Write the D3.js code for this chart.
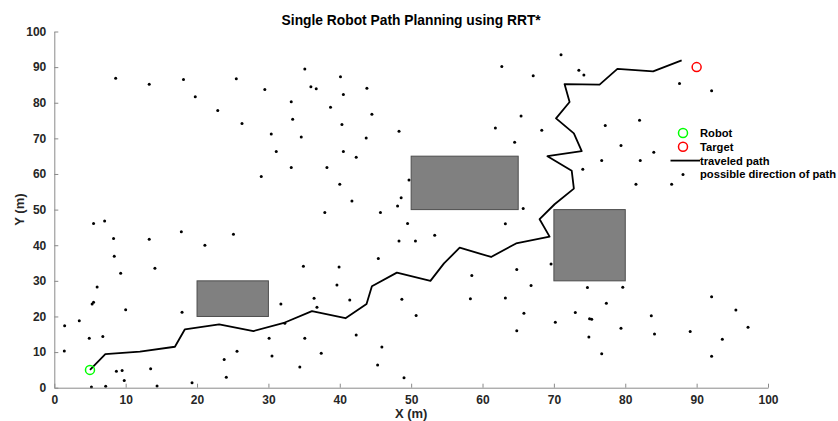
<!DOCTYPE html>
<html lang="en">
<head>
    <meta charset="UTF-8">
    <script src="https://cdn.jsdelivr.net/npm/d3@7"></script>
    <title>Single Robot Path Planning using RRT*</title>
    <style>
        body { margin: 0; background: white; }
        text { font-family: "Liberation Sans", Arial, sans-serif; font-weight: bold; }
    </style>
</head>
<body>
    <div id="chart"></div>

    <script>
        // robot start and target
        const robot = [5, 5];
        const target = [90, 90];

        // obstacles: [x, y, width, height]
        const obstacles = [
            [20, 20, 10, 10],
            [50, 50, 15, 15],
            [70, 30, 10, 20]
        ];

        // traveled path vertices
        const pathX = [5, 7.15, 12.0, 16.9, 18.3, 23.1, 27.9, 32.3, 36.1, 40.8, 43.75, 44.5, 48.0, 52.7,
            54.6, 56.8, 61.2, 64.7, 69.4, 68.0, 70.1, 72.8, 72.5, 69.1, 73.9, 72.8, 70.3, 72.2, 71.5,
            76.4, 78.9, 83.9, 87.9];
        const pathY = [5, 9.45, 10.1, 11.5, 16.4, 17.8, 15.9, 18.3, 21.5, 19.5, 23.5, 28.5, 32.3, 30.0,
            34.9, 39.3, 36.7, 40.5, 42.4, 47.3, 51.5, 55.9, 60.9, 65.0, 66.4, 71.4, 75.6, 80.2, 85.2,
            85.1, 89.5, 88.8, 91.9];

        // sampled nodes (possible direction of path)
        const nodeX = [8.6, 13.3, 18.1, 19.75, 22.9, 25.5, 26.3, 29.5, 29.0, 30.4, 31.1, 33.2, 33.4, 33.2,
            34.6, 35.1, 35.95, 36.7, 38.2, 38.7, 40.1, 40.5, 40.3, 40.5, 40.0, 42.3, 41.7, 43.7, 43.8,
            44.5, 48.3, 49.7, 48.6, 48.1,
            62.7, 67.1, 71.0, 73.5, 74.2, 87.6, 92.1, 65.4, 61.8, 68.3, 64.5, 77.2, 82.0, 79.4, 84.0,
            76.7, 82.1, 74.05, 81.5, 86.5, 65.7,
            5.5, 7.05, 8.3, 8.4, 9.3, 6.0, 5.5, 5.3, 10.0, 3.5, 1.45, 4.9, 6.8, 1.4, 8.7, 9.5, 9.8,
            5.2, 7.2, 14.4, 19.3, 13.5, 13.3, 14.1, 17.8, 17.9, 21.1, 25.1, 23.8, 24.1, 25.6, 30.1,
            30.5, 31.75, 32.3, 34.4, 35.1, 34.9, 36.4, 36.8, 37.4, 37.9, 39.9, 39.6, 41.4, 42.3, 45.7,
            49.5, 48.3, 50.6, 45.4, 48.7, 50.7, 45.9, 45.3, 49.0,
            53.3, 63.2, 58.5, 64.8, 69.6, 66.8, 58.3, 63.2, 74.7, 79.65, 77.35, 65.8, 73.0, 75.0, 75.3,
            70.2, 64.8, 79.4, 74.9, 76.7, 83.65, 84.1, 89.1, 92.1, 95.5, 97.2, 93.6, 92.1];
        const nodeY = [86.9, 85.2, 86.5, 81.7, 77.8, 86.7, 74.2, 83.7, 59.3, 71.2, 66.3, 80.3, 75.4, 61.8,
            70.4, 89.5, 84.5, 83.9, 61.8, 78.7, 87.3, 82.3, 73.9, 66.3, 57.1, 64.7, 52.4, 70.1, 84.1,
            76.8, 72.0, 58.3, 53.3, 51.0,
            90.2, 87.6, 93.5, 89.1, 87.8, 85.4, 83.4, 76.3, 72.9, 72.3, 68.9, 73.6, 75.1, 68.0, 66.1,
            63.8, 63.8, 61.3, 57.1, 57.1, 50.3,
            46.1, 46.8, 41.9, 36.9, 32.1, 28.3, 24.0, 23.5, 21.9, 18.8, 17.4, 13.9, 14.4, 10.3, 4.6, 4.8, 2.0,
            0.2, 0.4, 0.5, 1.4, 5.3, 41.7, 33.5, 43.8, 21.2, 40.0, 43.1, 7.9, 2.9, 10.2, 13.9,
            8.9, 23.5, 18.1, 5.8, 13.9, 34.1, 25.1, 22.6, 9.7, 49.2, 33.9, 28.8, 24.6, 14.8, 49.2,
            46.1, 41.2, 41.2, 36.3, 24.8, 20.3, 11.4, 6.4, 2.8,
            42.8, 46.0, 31.5, 33.2, 34.7, 28.7, 25.0, 25.2, 28.1, 28.2, 23.7, 20.9, 21.1, 19.35, 19.2,
            18.4, 16.0, 16.7, 14.2, 9.5, 20.2, 15.1, 15.8, 25.5, 21.8, 17.0, 13.6, 8.8];

        const ticks = [0, 10, 20, 30, 40, 50, 60, 70, 80, 90, 100];
        const legendLabels = ["Robot", "Target", "traveled path", "possible direction of path"];

        const width = 838, height = 421;
        const margin = { top: 31.5, right: 70, bottom: 33.3, left: 54.3 };

        const svg = d3.select("#chart").append("svg")
            .attr("width", width)
            .attr("height", height);

        const x = d3.scaleLinear().domain([0, 100]).range([margin.left, width - margin.right]);
        const y = d3.scaleLinear().domain([0, 100]).range([height - margin.bottom, margin.top]);

        // obstacles
        svg.selectAll("rect.obs")
            .data(obstacles)
            .enter()
            .append("rect")
            .attr("class", "obs")
            .attr("x", d => x(d[0]))
            .attr("y", d => y(d[1] + d[3]))
            .attr("width", d => x(d[0] + d[2]) - x(d[0]))
            .attr("height", d => y(d[1]) - y(d[1] + d[3]))
            .attr("fill", "#808080")
            .attr("stroke", "#4d4d4d")
            .attr("stroke-width", 1);

        // sampled nodes
        svg.selectAll("circle.node")
            .data(nodeX.map((v, i) => [v, nodeY[i]]))
            .enter()
            .append("circle")
            .attr("class", "node")
            .attr("cx", d => x(d[0]))
            .attr("cy", d => y(d[1]))
            .attr("r", 1.5)
            .attr("fill", "black");

        // traveled path
        const line = d3.line().x(d => x(d[0])).y(d => y(d[1]));
        svg.append("path")
            .datum(pathX.map((v, i) => [v, pathY[i]]))
            .attr("d", line)
            .attr("fill", "none")
            .attr("stroke", "black")
            .attr("stroke-width", 1.8)
            .attr("stroke-linejoin", "round");

        // robot and target
        svg.append("circle")
            .attr("cx", x(robot[0])).attr("cy", y(robot[1])).attr("r", 4.5)
            .attr("fill", "none").attr("stroke", "#00ff00").attr("stroke-width", 1.5);
        svg.append("circle")
            .attr("cx", x(target[0])).attr("cy", y(target[1])).attr("r", 4.5)
            .attr("fill", "none").attr("stroke", "#ff0000").attr("stroke-width", 1.5);

        // axes
        const xAxis = d3.axisBottom(x).tickValues(ticks).tickSizeInner(-4).tickSizeOuter(0).tickPadding(8);
        const yAxis = d3.axisLeft(y).tickValues(ticks).tickSizeInner(-4).tickSizeOuter(0).tickPadding(8);

        const gx = svg.append("g")
            .attr("transform", `translate(0,${y(0)})`)
            .call(xAxis);
        const gy = svg.append("g")
            .attr("transform", `translate(${x(0)},0)`)
            .call(yAxis);

        [gx, gy].forEach(g => {
            g.select(".domain").attr("stroke", "#8a8a8a").attr("stroke-width", 1);
            g.selectAll(".tick line").attr("stroke", "#8a8a8a");
            g.selectAll(".tick text")
                .attr("fill", "#262626")
                .style("font-size", "12px")
                .style("font-family", "Liberation Sans, Arial, sans-serif")
                .style("font-weight", "bold");
        });

        // title and labels
        svg.append("text")
            .attr("x", (x(0) + x(100)) / 2)
            .attr("y", 25)
            .attr("text-anchor", "middle")
            .style("font-size", "13.8px")
            .attr("fill", "black")
            .text("Single Robot Path Planning using RRT*");

        svg.append("text")
            .attr("x", (x(0) + x(100)) / 2)
            .attr("y", 418)
            .attr("text-anchor", "middle")
            .style("font-size", "13px")
            .attr("fill", "#262626")
            .text("X (m)");

        svg.append("text")
            .attr("transform", `translate(24,${(y(0) + y(100)) / 2}) rotate(-90)`)
            .attr("text-anchor", "middle")
            .style("font-size", "13px")
            .attr("fill", "#262626")
            .text("Y (m)");

        // legend
        const legend = svg.append("g").attr("transform", "translate(683,133)");
        const rowH = 13.8;
        legend.append("circle").attr("cx", 0).attr("cy", 0).attr("r", 4.5)
            .attr("fill", "none").attr("stroke", "#00ff00").attr("stroke-width", 1.5);
        legend.append("circle").attr("cx", 0).attr("cy", rowH).attr("r", 4.5)
            .attr("fill", "none").attr("stroke", "#ff0000").attr("stroke-width", 1.5);
        legend.append("line").attr("x1", -12.5).attr("x2", 17).attr("y1", 2 * rowH).attr("y2", 2 * rowH)
            .attr("stroke", "black").attr("stroke-width", 1.8);
        legend.append("circle").attr("cx", 0).attr("cy", 3 * rowH).attr("r", 1.5).attr("fill", "black");

        legend.selectAll("text")
            .data(legendLabels)
            .enter()
            .append("text")
            .attr("x", 17)
            .attr("y", (d, i) => i * rowH + 4)
            .style("font-size", "11.2px")
            .attr("fill", "black")
            .text(d => d);
    </script>
</body>
</html>
